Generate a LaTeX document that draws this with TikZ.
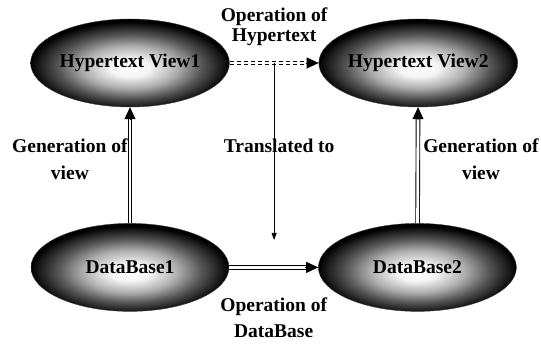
\documentclass[tikz,border=0pt]{standalone}
\usepackage{fontspec}
\setmainfont{Liberation Serif}
\newfontfamily\lblfont{Liberation Serif}
\usetikzlibrary{shapes.geometric, positioning, arrows.meta}
\pgfdeclareradialshading{bulb}{\pgfpoint{0bp}{-3bp}}{%
  color(0bp)=(white); color(5bp)=(white!96!black); color(12bp)=(black!32);
  color(18bp)=(black!66); color(23bp)=(black!90); color(25bp)=(black);
  color(50bp)=(black)}
\tikzset{
  node distance=89pt,
  every node/.style={font=\lblfont\fontsize{19.5}{23}\selectfont\bfseries},
  view/.style={ellipse, shade, shading=bulb, draw=black!75, line width=0.4pt,
    minimum width=198pt, minimum height=88pt, inner sep=0pt},
  % double line, its head is drawn apart by tipend
  link/.style={double, double distance=2.8pt, line width=0.9pt, shorten >=11pt},
  oplink/.style={link, dash pattern=on 4.5pt off 2.5pt},
  tipend/.style={-{Triangle[length=12pt,width=11pt]}, line width=0.8pt,
    shorten <=#1},
  lbl/.style={align=center, inner sep=0pt},
}

\begin{document}
\begin{tikzpicture}[x=1pt,y=1pt]
  \useasboundingbox (0,0) rectangle (541,345);

  \node[view]                    (hv1) at (130,282) {Hypertext View1};
  \node[view,right=of hv1]       (hv2) {Hypertext View2};
  \node[view,below=116pt of hv1] (db1) {DataBase1};
  \node[view,right=of db1]       (db2) {DataBase2};

  \draw[oplink] (hv1) -- coordinate[midway] (mid)
        node[lbl,above=17pt] {Operation of\\[-3pt]Hypertext} (hv2);
  \draw[link] (db1) -- node[lbl,below=30pt] {Operation of\\[3pt]DataBase} (db2);
  \draw[link] (db1) -- node[lbl,left=2pt,yshift=6pt] {Generation of\\[4pt]view} (hv1);
  \draw[link] (db2) -- node[lbl,right=5pt,yshift=6pt] {Generation of\\[4pt]view} (hv2);

  % heads
  \draw[tipend=76pt]  (hv1) -- (hv2);
  \draw[tipend=76pt]  (db1) -- (db2);
  \draw[tipend=103pt] (db1) -- (hv1);
  \draw[tipend=103pt] (db2) -- (hv2);

  % translation from the hypertext level down to the data level
  \coordinate[below=177pt of mid] (tr);
  \draw[-{Triangle[length=7pt,width=5pt]}, line width=0.8pt] (mid) --
        node[lbl,pos=0.47,xshift=5pt] {Translated to} (tr);
\end{tikzpicture}
\end{document}
